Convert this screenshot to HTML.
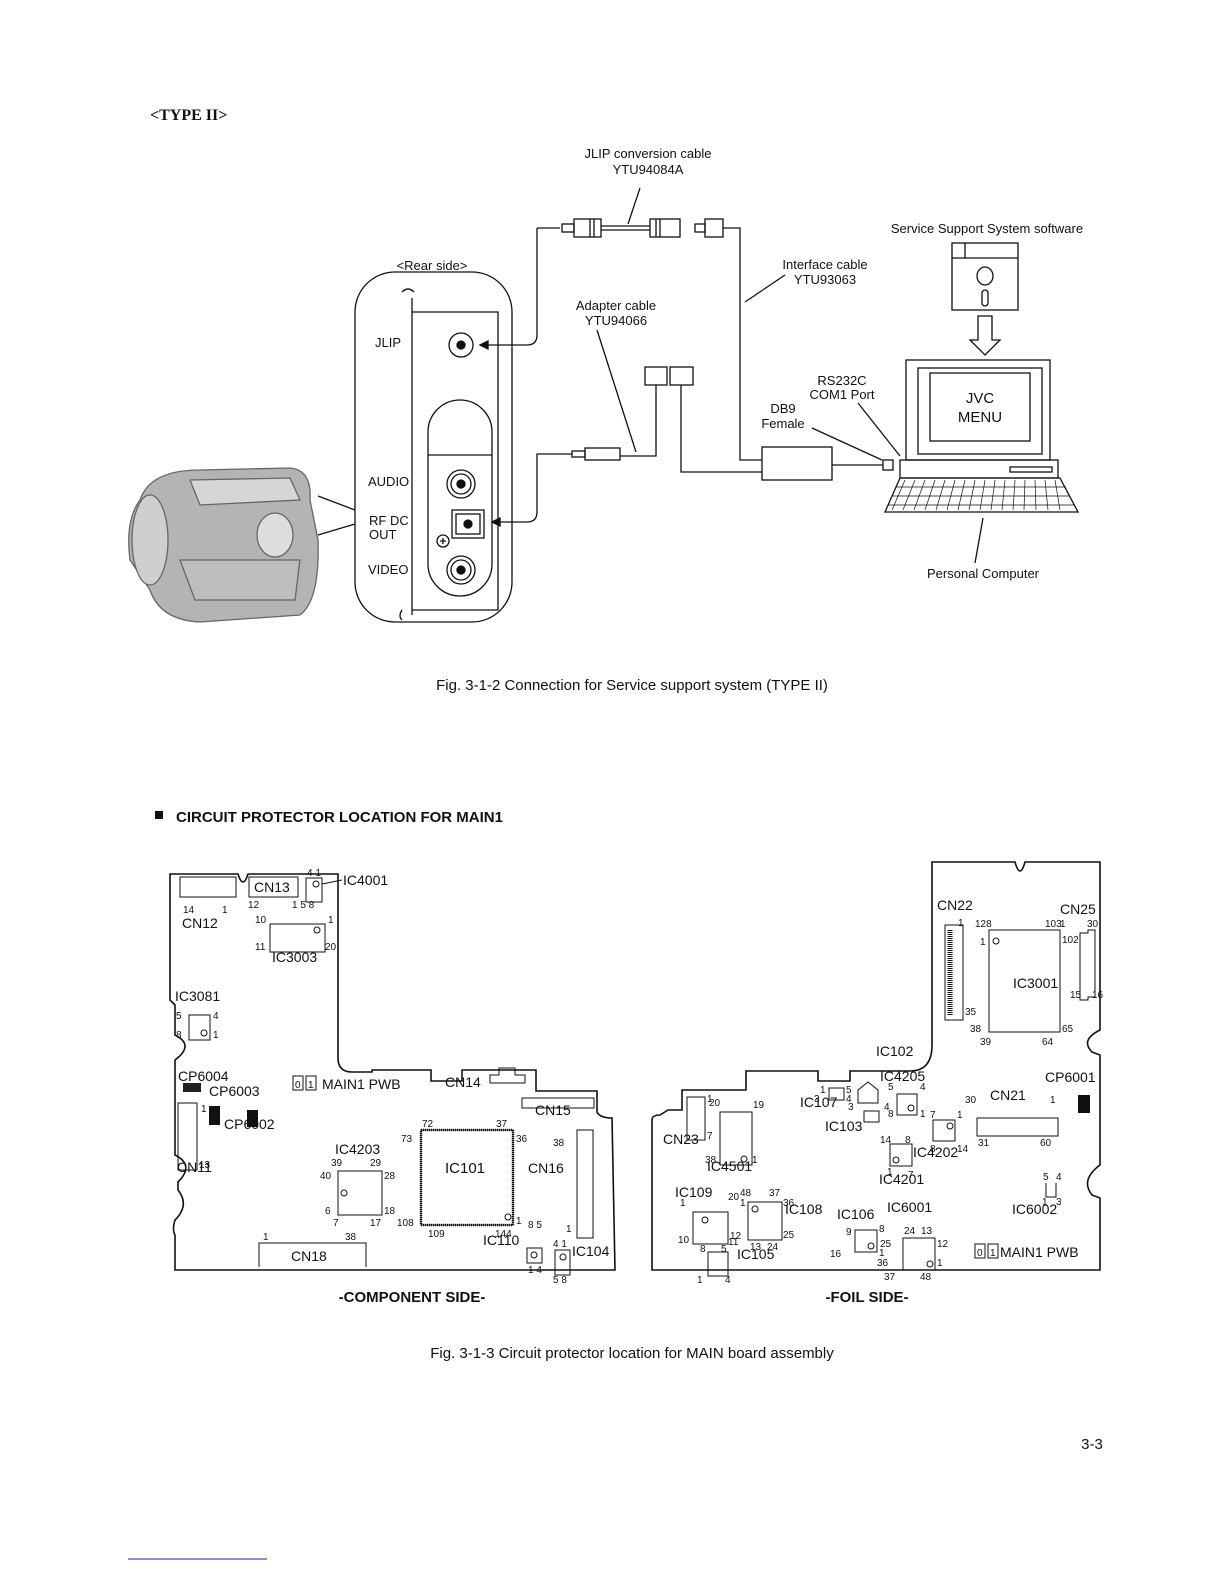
<!DOCTYPE html>
<html><head><meta charset="utf-8"><style>
html,body{margin:0;padding:0;background:#fff}
svg{display:block}
text{font-family:"Liberation Sans",sans-serif;fill:#111}
.s{font-size:14px}.p{font-size:10px}.m{font-size:13px}
</style></head><body>
<svg width="1224" height="1584" viewBox="0 0 1224 1584" xmlns="http://www.w3.org/2000/svg" fill="none" stroke="#111" stroke-width="1.3">
<text x="150" y="120" style="font-family:'Liberation Serif',serif;font-weight:bold;font-size:16px" stroke="none">&lt;TYPE II&gt;</text>

<g stroke="none" class="m" text-anchor="middle">
<text x="648" y="158" class="m">JLIP  conversion  cable</text>
<text x="648" y="174" class="m">YTU94084A</text>
<text x="987" y="233" class="m">Service  Support  System  software</text>
<text x="432" y="270" class="m">&lt;Rear side&gt;</text>
<text x="825" y="269" class="m">Interface  cable</text>
<text x="825" y="284" class="m">YTU93063</text>
<text x="616" y="310" class="m">Adapter  cable</text>
<text x="616" y="325" class="m">YTU94066</text>
<text x="842" y="385" class="m">RS232C</text>
<text x="842" y="399" class="m">COM1  Port</text>
<text x="783" y="413" class="m">DB9</text>
<text x="783" y="428" class="m">Female</text>
<text x="980" y="403" style="font-size:15px">JVC</text>
<text x="980" y="422" style="font-size:15px">MENU</text>
<text x="983" y="578" class="m">Personal  Computer</text>
</g>
<g stroke="none" class="m">
<text x="375" y="347">JLIP</text>
<text x="368" y="486">AUDIO</text>
<text x="369" y="525">RF DC</text>
<text x="369" y="539">OUT</text>
<text x="368" y="574">VIDEO</text>
</g>

<!-- camera -->
<g stroke="#666">
<path d="M140 500 Q150 470 200 470 L290 468 Q312 470 310 500 L318 540 Q320 600 300 615 L200 622 Q160 620 150 590 L130 560 Q125 520 140 500Z" fill="#b4b4b4"/>
<ellipse cx="150" cy="540" rx="18" ry="45" fill="#cfcfcf"/>
<ellipse cx="275" cy="535" rx="18" ry="22" fill="#ddd"/>
<path d="M190 480 L290 478 L300 500 L200 505Z" fill="#d6d6d6"/>
<path d="M180 560 L300 560 L295 600 L195 600Z" fill="#bdbdbd"/>
</g>
<path d="M318 496 L355 510 M318 535 L355 524"/>

<rect x="355" y="272" width="157" height="350" rx="40"/>
<path d="M412 298 V615 M412 312 H498 V610 H412"/>
<path d="M402 292 q6 -6 12 0"/><path d="M402 610 q-4 6 0 10"/>
<circle cx="461" cy="345" r="12"/><circle cx="461" cy="345" r="4" fill="#111"/>
<rect x="428" y="400" width="64" height="196" rx="32"/>
<path d="M428 455 H492"/>
<circle cx="461" cy="484" r="14"/><circle cx="461" cy="484" r="10"/><circle cx="461" cy="484" r="4" fill="#111"/>
<rect x="452" y="510" width="32" height="28"/><rect x="456" y="514" width="24" height="20"/><circle cx="468" cy="524" r="4" fill="#111"/>
<circle cx="443" cy="541" r="6"/><path d="M440 541h6M443 538v6"/>
<circle cx="461" cy="570" r="14"/><circle cx="461" cy="570" r="10"/><circle cx="461" cy="570" r="4" fill="#111"/>

<path d="M537 228 H560 M537 228 V335 Q537 345 527 345 H480"/>
<path d="M480 345 l8 -4 v8z" fill="#111"/>
<rect x="562" y="224" width="12" height="8"/><rect x="574" y="219" width="27" height="18"/>
<path d="M590 219v18M594 219v18M601 226 H650 M601 230 H650"/>
<rect x="650" y="219" width="30" height="18"/><path d="M656 219v18M660 219v18"/>
<rect x="695" y="224" width="10" height="8"/><rect x="705" y="219" width="18" height="18"/>
<path d="M723 228 H740 V460 H762"/>
<path d="M640 188 L628 224"/>
<path d="M745 302 L785 275"/>
<path d="M597 330 L636 452"/>
<rect x="645" y="367" width="22" height="18"/><rect x="670" y="367" width="23" height="18"/>
<path d="M656 385 V456 H620 M681 385 V472 H762"/>
<rect x="585" y="448" width="35" height="12"/><rect x="572" y="451" width="13" height="6"/>
<path d="M572 454 H537 V512 Q537 522 527 522 H495"/>
<path d="M492 522 l8 -4 v8z" fill="#111"/>
<rect x="762" y="447" width="70" height="33"/>
<path d="M832 465 H883"/><rect x="883" y="460" width="10" height="10"/>
<path d="M812 428 L882 460 M858 403 L900 456"/>

<rect x="952" y="243" width="66" height="67"/><path d="M952 258 H1018 M965 243 V258"/>
<ellipse cx="985" cy="276" rx="8" ry="9"/><rect x="982" y="290" width="6" height="16" rx="3"/>
<path d="M978 316 H992 V340 H1000 L985 355 L970 340 H978Z"/>
<rect x="906" y="360" width="144" height="100"/><rect x="918" y="368" width="124" height="86"/><rect x="930" y="373" width="100" height="68"/>
<rect x="900" y="460" width="158" height="18"/><rect x="1010" y="467" width="42" height="5"/>
<path d="M900 478 L885 512 H1078 L1060 478Z"/>
<path d="M888 505 H1075 M892 496 H1070 M896 487 H1066" stroke-width="0.8"/>
<g stroke-width="0.7"><path d="M905 480 L892 510 M915 480 L903 510 M925 480 L914 510 M935 480 L925 510 M945 480 L936 510 M955 480 L947 510 M965 480 L958 510 M975 480 L969 510 M985 480 L980 510 M995 480 L991 510 M1005 480 L1002 510 M1015 480 L1013 510 M1025 480 L1024 510 M1035 480 L1036 510 M1045 480 L1048 510 M1055 480 L1060 510"/></g>
<path d="M983 518 L975 563"/>

<text x="632" y="690" text-anchor="middle" stroke="none" style="font-size:15px">Fig. 3-1-2  Connection for Service support system (TYPE II)</text>

<rect x="155" y="811" width="8" height="8" fill="#111" stroke="none"/>
<text x="176" y="822" stroke="none" style="font-weight:bold;font-size:15px">CIRCUIT PROTECTOR  LOCATION FOR MAIN1</text>

<path d="M170 874 H238 Q243 890 248 874 H338 V1058 Q338 1072 352 1072 H372 V1070 H431 V1081 H462 V1070 H536 V1091 H597 V1112 Q600 1118 612 1118 L615 1270 H175 V1235 Q172 1230 175 1220 Q190 1205 178 1190 V1182 Q195 1165 175 1155 V1060 Q195 1045 175 1035 V1005 L170 1000 Z" stroke-width="1.6"/>
<path d="M932 862 H1015 Q1020 880 1025 862 H1100 V1030 Q1080 1040 1092 1052 L1100 1055 V1165 Q1080 1180 1092 1195 L1100 1198 V1270 H652 V1120 Q652 1115 660 1115 L668 1110 H682 V1090 H746 V1071 H818 V1081 H850 V1071 H910 Q932 1071 932 1045 Z" stroke-width="1.6"/>

<g stroke-width="1">
<rect x="180" y="877" width="56" height="20"/>
<rect x="249" y="877" width="49" height="20"/>
<rect x="306" y="878" width="16" height="24"/><circle cx="316" cy="884" r="3"/><path d="M322 884 L342 880"/>
<rect x="270" y="924" width="55" height="28"/><circle cx="317" cy="930" r="3"/>
<rect x="189" y="1015" width="21" height="25"/><circle cx="204" cy="1033" r="3"/>
<rect x="178" y="1103" width="19" height="67"/>
<rect x="338" y="1171" width="44" height="44"/><circle cx="344" cy="1193" r="3"/>
<rect x="421" y="1130" width="92" height="95" stroke-width="2.5" stroke-dasharray="1 1"/><rect x="421" y="1130" width="92" height="95"/><circle cx="508" cy="1217" r="3"/>
<rect x="577" y="1130" width="16" height="108"/>
<rect x="522" y="1098" width="72" height="10"/>
<path d="M490 1075 H499 V1068 H515 V1075 H525 V1083 H490Z"/>
<path d="M259 1267 V1243 H366 V1267"/>
<rect x="527" y="1248" width="15" height="15"/><circle cx="534" cy="1255" r="3"/>
<rect x="555" y="1250" width="15" height="25"/><circle cx="563" cy="1257" r="3"/>
<rect x="293" y="1076" width="10" height="14"/><rect x="306" y="1076" width="10" height="14"/>
</g>
<rect x="183" y="1083" width="18" height="9" fill="#222" stroke="none"/>
<rect x="209" y="1106" width="11" height="19" fill="#111" stroke="none"/>
<rect x="247" y="1110" width="11" height="17" fill="#111" stroke="none"/>
<g stroke="none">
<text x="182" y="928" class="s">CN12</text><text x="183" y="913" class="p">14</text><text x="222" y="913" class="p">1</text>
<text x="254" y="892" class="s">CN13</text><text x="248" y="908" class="p">12</text><text x="292" y="908" class="p">1 5  8</text>
<text x="343" y="885" class="s">IC4001</text><text x="307" y="876" class="p">4    1</text>
<text x="255" y="923" class="p">10</text><text x="328" y="923" class="p">1</text><text x="255" y="950" class="p">11</text><text x="325" y="950" class="p">20</text>
<text x="272" y="962" class="s">IC3003</text>
<text x="175" y="1001" class="s">IC3081</text><text x="176" y="1019" class="p">5</text><text x="213" y="1019" class="p">4</text><text x="176" y="1038" class="p">8</text><text x="213" y="1038" class="p">1</text>
<text x="178" y="1081" class="s">CP6004</text><text x="209" y="1096" class="s">CP6003</text><text x="224" y="1129" class="s">CP6002</text>
<text x="201" y="1112" class="p">1</text><text x="199" y="1168" class="p">13</text><text x="177" y="1172" class="s">CN11</text>
<text x="295" y="1088" class="p">0</text><text x="308" y="1088" class="p">1</text><text x="322" y="1089" class="s">MAIN1 PWB</text>
<text x="445" y="1087" class="s">CN14</text>
<text x="535" y="1115" class="s">CN15</text>
<text x="422" y="1127" class="p">72</text><text x="496" y="1127" class="p">37</text><text x="401" y="1142" class="p">73</text><text x="516" y="1142" class="p">36</text>
<text x="397" y="1226" class="p">108</text><text x="516" y="1224" class="p">1</text><text x="428" y="1237" class="p">109</text><text x="495" y="1237" class="p">144</text>
<text x="445" y="1173" style="font-size:15px">IC101</text>
<text x="528" y="1173" class="s">CN16</text><text x="553" y="1146" class="p">38</text><text x="566" y="1232" class="p">1</text>
<text x="335" y="1154" class="s">IC4203</text><text x="331" y="1166" class="p">39</text><text x="370" y="1166" class="p">29</text>
<text x="320" y="1179" class="p">40</text><text x="384" y="1179" class="p">28</text><text x="325" y="1214" class="p">6</text><text x="384" y="1214" class="p">18</text>
<text x="333" y="1226" class="p">7</text><text x="370" y="1226" class="p">17</text>
<text x="263" y="1240" class="p">1</text><text x="345" y="1240" class="p">38</text><text x="291" y="1261" class="s">CN18</text>
<text x="483" y="1245" class="s">IC110</text><text x="528" y="1228" class="p">8  5</text><text x="528" y="1273" class="p">1   4</text>
<text x="553" y="1247" class="p">4    1</text><text x="572" y="1256" class="s">IC104</text><text x="553" y="1283" class="p">5    8</text>
</g>

<g stroke-width="1">
<rect x="945" y="925" width="18" height="95"/><path d="M950 930 V1015" stroke-width="5" stroke-dasharray="1 1"/>
<rect x="989" y="930" width="71" height="102"/><circle cx="996" cy="941" r="3"/>
<path d="M1080 933 H1088 V930 H1095 V997 H1088 V1000 H1080Z"/>
<rect x="977" y="1118" width="81" height="18"/>
<path d="M858 1103 V1090 L868 1082 L878 1090 V1103Z"/>
<rect x="829" y="1088" width="15" height="12"/>
<rect x="897" y="1094" width="20" height="21"/><circle cx="911" cy="1108" r="3"/>
<rect x="864" y="1111" width="15" height="11"/>
<rect x="933" y="1120" width="22" height="21"/><circle cx="950" cy="1126" r="3"/>
<rect x="890" y="1144" width="22" height="22"/><circle cx="896" cy="1160" r="3"/>
<rect x="687" y="1097" width="18" height="43"/>
<rect x="720" y="1112" width="32" height="53"/><circle cx="744" cy="1159" r="3"/>
<rect x="693" y="1212" width="35" height="32"/><circle cx="705" cy="1220" r="3"/>
<rect x="748" y="1202" width="34" height="38"/><circle cx="755" cy="1209" r="3"/>
<rect x="708" y="1252" width="20" height="24"/>
<rect x="855" y="1230" width="22" height="22"/><circle cx="871" cy="1246" r="3"/>
<rect x="903" y="1238" width="32" height="32"/><circle cx="930" cy="1264" r="3"/>
<path d="M1046 1183 V1197 H1056 V1183"/>
<rect x="975" y="1244" width="10" height="14"/><rect x="988" y="1244" width="10" height="14"/>
</g>
<rect x="1078" y="1095" width="12" height="18" fill="#111" stroke="none"/>
<g stroke="none">
<text x="937" y="910" class="s">CN22</text><text x="958" y="926" class="p">1</text><text x="965" y="1015" class="p">35</text>
<text x="1060" y="914" class="s">CN25</text><text x="1060" y="927" class="p">1</text><text x="1087" y="927" class="p">30</text><text x="1070" y="998" class="p">15</text><text x="1092" y="998" class="p">16</text>
<text x="975" y="927" class="p">128</text><text x="1045" y="927" class="p">103</text><text x="980" y="945" class="p">1</text><text x="1062" y="943" class="p">102</text>
<text x="1013" y="988" class="s">IC3001</text><text x="970" y="1032" class="p">38</text><text x="1062" y="1032" class="p">65</text><text x="980" y="1045" class="p">39</text><text x="1042" y="1045" class="p">64</text>
<text x="1045" y="1082" class="s">CP6001</text>
<text x="990" y="1100" class="s">CN21</text><text x="965" y="1103" class="p">30</text><text x="1050" y="1103" class="p">1</text><text x="978" y="1146" class="p">31</text><text x="1040" y="1146" class="p">60</text>
<text x="876" y="1056" class="s">IC102</text>
<text x="880" y="1081" class="s">IC4205</text><text x="888" y="1090" class="p">5</text><text x="920" y="1090" class="p">4</text><text x="888" y="1117" class="p">8</text><text x="920" y="1117" class="p">1</text>
<text x="800" y="1107" class="s">IC107</text><text x="820" y="1093" class="p">1</text><text x="846" y="1093" class="p">5</text><text x="814" y="1102" class="p">3</text><text x="846" y="1102" class="p">4</text>
<text x="825" y="1131" class="s">IC103</text><text x="848" y="1110" class="p">3</text><text x="884" y="1110" class="p">4</text>
<text x="930" y="1118" class="p">7</text><text x="957" y="1118" class="p">1</text><text x="930" y="1152" class="p">8</text><text x="957" y="1152" class="p">14</text>
<text x="913" y="1157" class="s">IC4202</text>
<text x="880" y="1143" class="p">14</text><text x="905" y="1143" class="p">8</text><text x="887" y="1175" class="p">1</text><text x="908" y="1178" class="p">7</text>
<text x="879" y="1184" class="s">IC4201</text>
<text x="663" y="1144" class="s">CN23</text><text x="707" y="1102" class="p">1</text><text x="707" y="1139" class="p">7</text>
<text x="709" y="1106" class="p">20</text><text x="753" y="1108" class="p">19</text><text x="705" y="1163" class="p">38</text><text x="752" y="1163" class="p">1</text>
<text x="707" y="1171" class="s">IC4501</text>
<text x="675" y="1197" class="s">IC109</text><text x="728" y="1200" class="p">20</text><text x="680" y="1206" class="p">1</text><text x="678" y="1243" class="p">10</text><text x="728" y="1245" class="p">11</text>
<text x="740" y="1196" class="p">48</text><text x="769" y="1196" class="p">37</text><text x="740" y="1206" class="p">1</text><text x="783" y="1206" class="p">36</text>
<text x="785" y="1214" class="s">IC108</text><text x="730" y="1239" class="p">12</text><text x="783" y="1238" class="p">25</text><text x="750" y="1250" class="p">13</text><text x="767" y="1250" class="p">24</text>
<text x="700" y="1252" class="p">8</text><text x="721" y="1252" class="p">5</text><text x="697" y="1283" class="p">1</text><text x="725" y="1283" class="p">4</text>
<text x="737" y="1259" class="s">IC105</text>
<text x="837" y="1219" class="s">IC106</text><text x="846" y="1235" class="p">9</text><text x="879" y="1232" class="p">8</text><text x="830" y="1257" class="p">16</text><text x="879" y="1256" class="p">1</text>
<text x="887" y="1212" class="s">IC6001</text><text x="904" y="1234" class="p">24</text><text x="921" y="1234" class="p">13</text><text x="880" y="1247" class="p">25</text><text x="937" y="1247" class="p">12</text>
<text x="877" y="1266" class="p">36</text><text x="937" y="1266" class="p">1</text><text x="884" y="1280" class="p">37</text><text x="920" y="1280" class="p">48</text>
<text x="1043" y="1180" class="p">5</text><text x="1056" y="1180" class="p">4</text><text x="1042" y="1205" class="p">1</text><text x="1056" y="1205" class="p">3</text>
<text x="1012" y="1214" class="s">IC6002</text>
<text x="977" y="1256" class="p">0</text><text x="990" y="1256" class="p">1</text><text x="1000" y="1257" class="s">MAIN1 PWB</text>
</g>

<g stroke="none" style="font-weight:bold;font-size:15px" text-anchor="middle">
<text x="412" y="1302">-COMPONENT SIDE-</text><text x="867" y="1302">-FOIL SIDE-</text>
</g>
<text x="632" y="1358" text-anchor="middle" stroke="none" style="font-size:15px">Fig. 3-1-3  Circuit protector location for MAIN board assembly</text>
<text x="1092" y="1449" text-anchor="middle" stroke="none" style="font-size:15px">3-3</text>
<path d="M128 1559 H267" stroke="#3355cc"/>
</svg>
</body></html>
